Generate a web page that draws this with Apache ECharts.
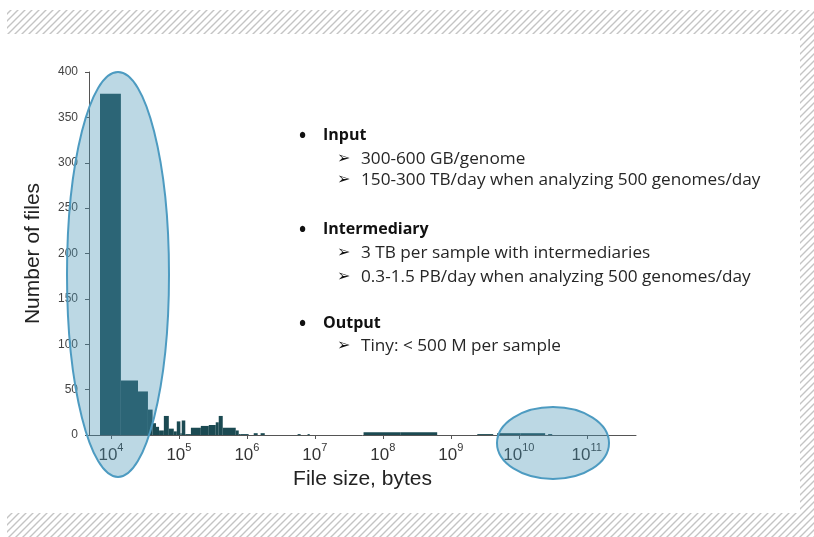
<!DOCTYPE html>
<html>
<head>
<meta charset="utf-8">
<script src="https://cdn.jsdelivr.net/npm/echarts@6/dist/echarts.min.js"></script>
<style>
  html, body { margin: 0; padding: 0; background: #ffffff; }
  #chart { width: 814px; height: 537px; }
</style>
</head>
<body>
<div id="chart"></div>
<script>
// Histogram of file sizes: each bin spans [fileSizeFrom, fileSizeTo) bytes
const fileSizeFrom = [6900, 14000, 25000, 35000, 41000, 46000, 51000, 60000, 71000, 84000,
  93000, 105000, 110000, 124000, 150000, 210000, 275000, 348000, 385000, 441000,
  685000, 758000, 811000, 1.26e6, 1.59e6, 5.57e6, 7.8e6, 5.2e7, 1.8e8, 2.45e9,
  4.8e9, 1.05e10, 2.7e10];
const fileSizeTo = [14000, 25000, 35000, 41000, 46000, 51000, 60000, 71000, 84000, 93000,
  105000, 110000, 124000, 150000, 210000, 275000, 348000, 385000, 441000, 685000,
  758000, 811000, 1.06e6, 1.44e6, 1.83e6, 6.17e6, 8.4e6, 1.8e8, 6.3e8, 4.2e9,
  1.05e10, 2.44e10, 3.1e10];
const fileCounts = [376, 60, 48, 28, 13, 9, 5, 21, 7, 4,
  15, 2, 16, 1, 8, 10, 11, 14, 21, 8,
  5, 1, 1, 2, 2, 1, 1, 3, 3, 1,
  2, 2, 1];

// Axis ticks: powers of ten (exponents) and count ticks
const sizeExponents = [4, 5, 6, 7, 8, 9, 10, 11];
const countMax = 400;
const countStep = 50;

// Storage notes shown beside the histogram
const noteHeadings = ['Input', 'Intermediary', 'Output'];
const noteItems = [
  ['300-600 GB/genome', '150-300 TB/day when analyzing 500 genomes/day'],
  ['3 TB per sample with intermediaries', '0.3-1.5 PB/day when analyzing 500 genomes/day'],
  ['Tiny: < 500 M per sample']
];

const binData = fileSizeFrom.map((f, i) => [Math.log10(f), Math.log10(fileSizeTo[i]), fileCounts[i]]);

// Diagonal hatch tile for the page frame
function hatchTile() {
  const c = document.createElement('canvas');
  c.width = 7; c.height = 7;
  const g = c.getContext('2d');
  g.strokeStyle = '#c4c4c4';
  g.lineWidth = 1.4;
  g.beginPath();
  g.moveTo(-1, 8); g.lineTo(8, -1);
  g.moveTo(-1, 1); g.lineTo(1, -1);
  g.moveTo(6, 8); g.lineTo(8, 6);
  g.stroke();
  return c;
}
const hatch = { image: hatchTile(), repeat: 'repeat' };

const textFont = '"Open Sans", Lato, "DejaVu Sans", sans-serif';
const notes = [];
const headY = [135, 229, 323];
const itemY = [[159, 180], [253, 277], [346]];
noteHeadings.forEach((h, i) => {
  notes.push({ type: 'text', z: 50, x: 299, y: headY[i] + 2,
    style: { text: '\u2022', font: 'bold 19px ' + textFont, fill: '#111', verticalAlign: 'middle' } });
  notes.push({ type: 'text', z: 50, x: 323, y: headY[i],
    style: { text: h, font: 'bold 16px ' + textFont, fill: '#111', verticalAlign: 'middle' } });
  noteItems[i].forEach((t, j) => {
    notes.push({ type: 'text', z: 50, x: 337, y: itemY[i][j],
      style: { text: '\u27A2', font: 'bold 16px "DejaVu Sans", sans-serif', fill: '#111', verticalAlign: 'middle' } });
    notes.push({ type: 'text', z: 50, x: 361, y: itemY[i][j],
      style: { text: t, font: '17.2px ' + textFont, fill: '#262626', verticalAlign: 'middle' } });
  });
});

const chart = echarts.init(document.getElementById('chart'), null, { renderer: 'canvas' });
chart.setOption({
  animation: false,
  backgroundColor: '#ffffff',
  grid: { left: 89, right: 178, top: 72, bottom: 102, containLabel: false },
  xAxis: {
    type: 'value',
    min: 3.677,
    max: 11.724,
    name: 'File size, bytes',
    nameLocation: 'middle',
    nameGap: 25,
    nameTextStyle: { fontFamily: '"Liberation Sans", Arial, sans-serif', fontSize: 21, color: '#222' },
    axisLine: { show: true, onZero: false, lineStyle: { color: '#555', width: 1 } },
    axisTick: { show: true, customValues: sizeExponents, length: 4, lineStyle: { color: '#555' } },
    axisLabel: {
      customValues: sizeExponents,
      margin: 7,
      formatter: v => '{b|10}{s|' + v + '}',
      rich: {
        b: { fontFamily: '"Liberation Sans", Arial, sans-serif', fontSize: 17, color: '#333', lineHeight: 22, verticalAlign: 'bottom' },
        s: { fontFamily: '"Liberation Sans", Arial, sans-serif', fontSize: 11, color: '#333', lineHeight: 12, verticalAlign: 'top' }
      }
    },
    splitLine: { show: false }
  },
  yAxis: {
    type: 'value',
    min: 0,
    max: countMax,
    interval: countStep,
    name: 'Number of files',
    nameLocation: 'middle',
    nameGap: 45,
    nameTextStyle: { fontFamily: '"Liberation Sans", Arial, sans-serif', fontSize: 21, color: '#222' },
    axisLine: { show: true, lineStyle: { color: '#555', width: 1 } },
    axisTick: { show: true, length: 4, lineStyle: { color: '#555' } },
    axisLabel: { fontFamily: '"Liberation Sans", Arial, sans-serif', fontSize: 12, color: '#444', margin: 11 },
    splitLine: { show: false }
  },
  series: [{
    type: 'custom',
    name: 'Number of files',
    data: binData,
    encode: { x: [0, 1], y: 2 },
    renderItem: (params, api) => {
      const p0 = api.coord([api.value(0), 0]);
      const p1 = api.coord([api.value(1), api.value(2)]);
      return {
        type: 'rect',
        shape: { x: p0[0], y: p1[1], width: p1[0] - p0[0], height: p0[1] - p1[1] },
        style: { fill: '#1b4a52' }
      };
    }
  }],
  graphic: [
    // hatched frame
    { type: 'rect', z: 1, shape: { x: 7, y: 10, width: 807, height: 24 }, style: { fill: hatch } },
    { type: 'rect', z: 1, shape: { x: 800, y: 34, width: 14, height: 503 }, style: { fill: hatch } },
    { type: 'rect', z: 1, shape: { x: 7, y: 513, width: 793, height: 24 }, style: { fill: hatch } },
    // highlight ellipses
    { type: 'ellipse', z: 40, shape: { cx: 118, cy: 274.5, rx: 51, ry: 202.5 },
      style: { fill: 'rgba(74,150,182,0.37)', stroke: '#4d9bc1', lineWidth: 2 } },
    { type: 'ellipse', z: 40, shape: { cx: 553, cy: 443, rx: 56, ry: 36 },
      style: { fill: 'rgba(74,150,182,0.37)', stroke: '#4d9bc1', lineWidth: 2 } }
  ].concat(notes)
});
</script>
</body>
</html>
